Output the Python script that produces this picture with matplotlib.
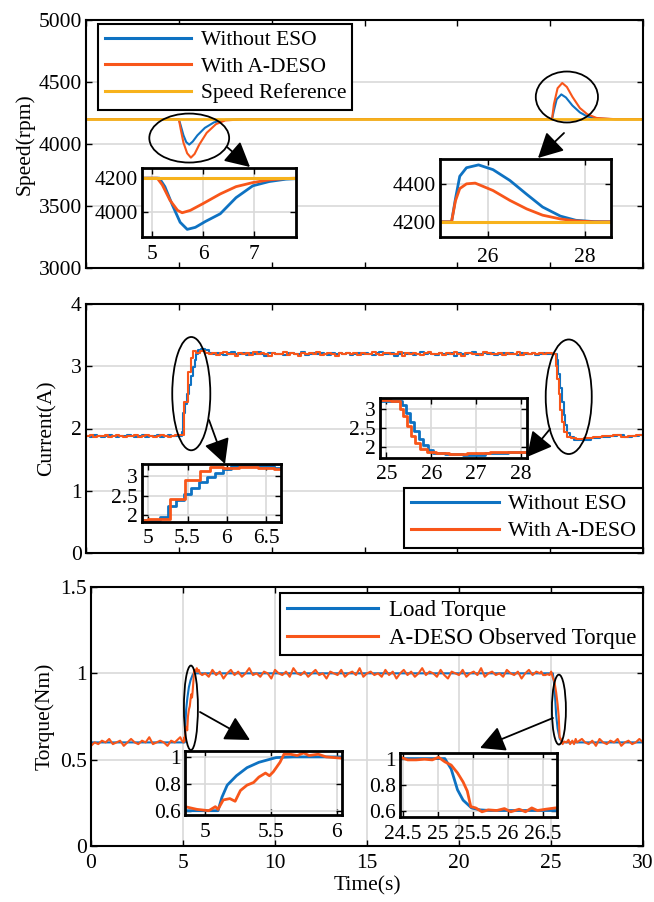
import numpy as np
import matplotlib
matplotlib.use("Agg")
import matplotlib.pyplot as plt
from matplotlib.patches import Ellipse, FancyArrowPatch
from matplotlib.ticker import FuncFormatter

plt.rcParams['font.family'] = ['Liberation Serif', 'DejaVu Serif']
FS = 15.5
plt.rcParams['font.size'] = FS

BLUE = '#0E72C2'
ORANGE = '#F8561A'
YELLOW = '#F7B21C'
GRID = '#d9d9d9'

# ---------------- Speed data ----------------
speed_ref = 4200
speed_t_blue = [0, 5.0, 5.1, 5.25, 5.4, 5.56, 5.75, 6.0, 6.4, 6.9, 7.5, 8.5,
                25.1, 25.2, 25.35, 25.6, 25.85, 26.2, 26.6, 27.0, 27.5, 28.5, 30]
speed_blue = [4200, 4200, 4150, 4070, 4015, 3995, 4020, 4070, 4130, 4175, 4195, 4200,
              4200, 4270, 4360, 4400, 4375, 4310, 4255, 4222, 4205, 4200, 4200]
speed_t_orange = [0, 5.0, 5.1, 5.25, 5.45, 5.65, 5.85, 6.1, 6.5, 7.0, 7.5, 8.5,
                  25.1, 25.2, 25.4, 25.65, 25.9, 26.2, 26.6, 27.0, 27.5, 28.5, 30]
speed_orange = [4200, 4200, 4120, 4010, 3925, 3890, 3920, 3995, 4090, 4160, 4190, 4200,
                4200, 4320, 4450, 4492, 4460, 4380, 4290, 4240, 4210, 4200, 4200]

# zoomed detail (as drawn in the insets)
zoom1_t_blue = [4.8, 5.14, 5.25, 5.4, 5.55, 5.69, 5.85, 6.05, 6.34, 6.65, 6.98, 7.3, 7.63, 7.83]
zoom1_blue = [4200, 4200, 4150, 4040, 3940, 3898, 3910, 3945, 3990, 4085, 4155, 4180, 4194, 4197]
zoom1_t_orange = [4.8, 5.1, 5.2, 5.35, 5.5, 5.59, 5.75, 6.0, 6.34, 6.65, 6.98, 7.3, 7.63, 7.83]
zoom1_orange = [4200, 4200, 4160, 4070, 4010, 3996, 4010, 4050, 4107, 4150, 4174, 4190, 4198, 4200]
zoom2_t_blue = [25.0, 25.24, 25.32, 25.41, 25.55, 25.8, 26.1, 26.45, 26.8, 27.13, 27.5, 27.82, 28.2, 28.55]
zoom2_blue = [4200, 4200, 4320, 4440, 4485, 4500, 4475, 4418, 4345, 4278, 4230, 4208, 4201, 4200]
zoom2_t_orange = [25.0, 25.24, 25.32, 25.41, 25.55, 25.73, 26.1, 26.45, 26.8, 27.13, 27.5, 27.82, 28.2, 28.55]
zoom2_orange = [4200, 4200, 4310, 4375, 4400, 4404, 4365, 4313, 4268, 4235, 4215, 4205, 4200, 4200]

# ---------------- Current data ----------------
cur_base_blue = [1.88, 1.87, 1.89, 1.88, 1.87, 1.88, 1.89, 1.88, 1.87, 1.88, 1.88, 1.89, 1.88,
                 1.87, 1.88, 1.89, 1.87, 1.88, 1.88, 1.89, 1.87, 1.88, 1.89, 1.88, 1.88]
cur_base_orange = [1.88, 1.89, 1.87, 1.88, 1.88, 1.89, 1.87, 1.88, 1.89, 1.88, 1.87, 1.88, 1.88,
                   1.89, 1.87, 1.88, 1.89, 1.88, 1.87, 1.88, 1.89, 1.88, 1.87, 1.88, 1.89]
cur_rise_t_blue = [5.0, 5.15, 5.25, 5.35, 5.45, 5.55, 5.65, 5.75, 5.85, 5.95, 6.05, 6.2, 6.4]
cur_rise_blue = [1.88, 1.95, 2.25, 2.4, 2.55, 2.7, 2.85, 2.98, 3.1, 3.2, 3.26, 3.28, 3.26]
cur_rise_t_orange = [5.0, 5.28, 5.47, 5.66, 5.78, 5.95, 6.15, 6.4]
cur_rise_orange = [1.9, 2.42, 2.9, 3.13, 3.25, 3.21, 3.24, 3.22]
cur_plat_blue = [3.21, 3.19, 3.22, 3.20, 3.18, 3.21, 3.23, 3.19, 3.20, 3.22,
                 3.18, 3.21, 3.19, 3.23, 3.20, 3.17, 3.21, 3.22, 3.19, 3.20,
                 3.18, 3.22, 3.21, 3.19, 3.20, 3.23, 3.18, 3.20, 3.21, 3.19,
                 3.22, 3.20, 3.18, 3.21, 3.19, 3.22, 3.20, 3.21, 3.18, 3.20,
                 3.22, 3.19, 3.21, 3.20, 3.18, 3.21, 3.23, 3.20, 3.19, 3.21,
                 3.17, 3.20, 3.22, 3.19, 3.21, 3.18, 3.20, 3.23, 3.19, 3.21,
                 3.20, 3.18, 3.22, 3.20, 3.19, 3.21, 3.17, 3.22, 3.20, 3.19,
                 3.21, 3.23, 3.18, 3.20, 3.21, 3.19, 3.22, 3.18, 3.20, 3.21,
                 3.19, 3.22, 3.20, 3.18, 3.21, 3.20, 3.19, 3.22, 3.18, 3.20,
                 3.21, 3.19]
cur_plat_orange = [3.20, 3.22, 3.18, 3.21, 3.23, 3.19, 3.20, 3.17, 3.22, 3.20,
                   3.21, 3.18, 3.23, 3.19, 3.21, 3.20, 3.17, 3.22, 3.20, 3.19,
                   3.23, 3.18, 3.21, 3.20, 3.17, 3.22, 3.19, 3.21, 3.20, 3.23,
                   3.18, 3.20, 3.22, 3.19, 3.17, 3.21, 3.20, 3.22, 3.19, 3.21,
                   3.18, 3.22, 3.20, 3.19, 3.23, 3.20, 3.18, 3.21, 3.22, 3.19,
                   3.20, 3.23, 3.17, 3.21, 3.19, 3.22, 3.20, 3.18, 3.21, 3.23,
                   3.19, 3.20, 3.22, 3.18, 3.21, 3.19, 3.23, 3.20, 3.17, 3.21,
                   3.22, 3.19, 3.20, 3.18, 3.23, 3.21, 3.19, 3.20, 3.22, 3.18,
                   3.21, 3.20, 3.19, 3.23, 3.18, 3.21, 3.20, 3.22, 3.19, 3.21,
                   3.20, 3.22]
cur_fall_t_blue = [25.1, 25.35, 25.44, 25.53, 25.62, 25.72, 25.82, 25.93, 26.05, 26.3, 26.7,
                   27.2, 27.7, 28.2, 28.6, 29.0, 29.4, 29.8, 30.0]
cur_fall_blue = [3.2, 3.1, 2.88, 2.65, 2.43, 2.22, 2.05, 1.93, 1.86, 1.82, 1.81,
                 1.84, 1.87, 1.88, 1.89, 1.87, 1.88, 1.89, 1.88]
cur_fall_t_orange = [25.1, 25.3, 25.38, 25.46, 25.55, 25.64, 25.75, 25.9, 26.1, 26.4, 26.8,
                     27.3, 27.8, 28.4, 28.8, 29.2, 29.6, 30.0]
cur_fall_orange = [3.2, 3.0, 2.8, 2.55, 2.3, 2.1, 1.95, 1.87, 1.84, 1.83, 1.85,
                   1.87, 1.88, 1.89, 1.87, 1.88, 1.89, 1.88]

# ---------------- Torque data ----------------
load_t = [0, 5.1, 5.13, 5.17, 5.24, 5.32, 5.41, 5.54, 5.67, 25.1, 25.19, 25.28, 25.36, 25.48, 25.6, 25.75, 30]
load_torque = [0.6, 0.6, 0.70, 0.79, 0.86, 0.92, 0.96, 0.995, 1.0, 1.0, 0.92, 0.76, 0.68, 0.62, 0.605, 0.6, 0.6]

obs_base = [0.58, 0.60, 0.59, 0.61, 0.60, 0.62, 0.59, 0.60, 0.61, 0.58, 0.60, 0.62, 0.60,
            0.59, 0.61, 0.60, 0.63, 0.59, 0.60, 0.61, 0.60, 0.58, 0.61, 0.60, 0.62]
obs_rise_t = [4.85, 4.94, 5.03, 5.08, 5.10, 5.14, 5.19, 5.23, 5.27, 5.32, 5.37, 5.41, 5.46, 5.49,
              5.52, 5.57, 5.60, 5.65, 5.70, 5.75, 5.79, 5.86, 5.92, 5.98, 6.04]
obs_rise = [0.63, 0.61, 0.60, 0.63, 0.61, 0.68, 0.69, 0.67, 0.75, 0.79, 0.81, 0.85, 0.88, 0.86,
            0.89, 0.96, 1.02, 1.02, 1.01, 1.03, 1.01, 1.02, 1.00, 0.995, 0.99]
obs_plat = [1.00, 0.98, 1.02, 0.99, 1.01, 0.97, 1.00, 1.02, 0.99, 1.01,
            0.98, 1.00, 1.03, 0.99, 1.00, 0.98, 1.01, 1.00, 0.97, 1.02,
            1.00, 0.99, 1.01, 0.98, 1.03, 1.00, 0.99, 1.01, 0.98, 1.00,
            1.02, 0.99, 1.00, 0.97, 1.01, 1.00, 0.99, 1.02, 0.98, 1.00,
            1.01, 0.99, 1.03, 0.98, 1.00, 1.01, 0.99, 1.00, 0.98, 1.02,
            0.99, 1.01, 0.97, 1.00, 1.02, 0.99, 1.01, 0.98, 1.00, 1.03,
            0.99, 1.01, 1.00, 0.98, 1.02, 0.99, 0.97, 1.01, 1.00, 0.99,
            1.02, 0.98, 1.00, 1.01, 0.99, 1.03, 0.98, 1.00, 1.01, 0.99,
            1.00, 0.98, 1.02, 1.00, 0.99, 1.01, 0.97, 1.00, 1.02, 0.99,
            1.01, 1.00]
obs_fall_t = [24.47, 24.57, 24.69, 24.81, 24.92, 25.01, 25.10, 25.19, 25.28, 25.36, 25.42, 25.47,
              25.54, 25.63, 25.72, 25.84, 25.95, 26.04, 26.16, 26.25, 26.34, 26.42, 26.54, 26.68]
obs_fall = [1.01, 0.99, 0.99, 0.995, 0.99, 1.01, 0.975, 0.95, 0.89, 0.82, 0.75, 0.63,
            0.62, 0.59, 0.605, 0.60, 0.615, 0.59, 0.61, 0.59, 0.62, 0.60, 0.61, 0.62]
obs_tail = [0.60, 0.59, 0.61, 0.58, 0.62, 0.60, 0.59, 0.61, 0.60, 0.62, 0.58, 0.60, 0.61, 0.59,
            0.60, 0.62, 0.60]

# assemble sampled series (uniform sample times for the noisy stretches)
cur_t_blue = np.concatenate([np.linspace(0, 4.8, len(cur_base_blue)), cur_rise_t_blue,
                             np.linspace(6.6, 24.8, len(cur_plat_blue)), cur_fall_t_blue])
cur_blue = np.concatenate([cur_base_blue, cur_rise_blue, cur_plat_blue, cur_fall_blue])
cur_t_orange = np.concatenate([np.linspace(0, 4.8, len(cur_base_orange)), cur_rise_t_orange,
                               np.linspace(6.6, 24.8, len(cur_plat_orange)), cur_fall_t_orange])
cur_orange = np.concatenate([cur_base_orange, cur_rise_orange, cur_plat_orange, cur_fall_orange])
obs_t = np.concatenate([np.linspace(0, 4.75, len(obs_base)), obs_rise_t,
                        np.linspace(6.2, 24.4, len(obs_plat)), obs_fall_t,
                        np.linspace(26.85, 30, len(obs_tail))])
obs_torque = np.concatenate([obs_base, obs_rise, obs_plat, obs_fall, obs_tail])

# ---------------- Figure ----------------
W, H = 654, 902
fig = plt.figure(figsize=(W / 100, H / 100), dpi=100)


def px(x0, y0, x1, y1):
    return [x0 / W, 1 - y1 / H, (x1 - x0) / W, (y1 - y0) / H]


fmt = FuncFormatter(lambda v, p: '%g' % v)


def style(ax, lw=1.5, xgrid=True, ygrid=True, ticklen=4):
    for s in ax.spines.values():
        s.set_linewidth(lw)
        s.set_color('k')
    ax.tick_params(direction='in', top=True, right=True, length=ticklen, width=1,
                   labelsize=FS, pad=3, colors='k')
    if xgrid:
        ax.xaxis.grid(True, color=GRID, lw=1.2)
    if ygrid:
        ax.yaxis.grid(True, color=GRID, lw=1.2)
    ax.set_axisbelow(True)
    ax.xaxis.set_major_formatter(fmt)
    ax.yaxis.set_major_formatter(fmt)


def ellipse(ax, c, w, h):
    ax.add_patch(Ellipse(c, w, h, fill=False, ec='k', lw=1.3, zorder=6, clip_on=False))


def arrow(p0, p1):
    a = FancyArrowPatch((p0[0] / W, 1 - p0[1] / H), (p1[0] / W, 1 - p1[1] / H),
                        transform=fig.transFigure, arrowstyle='-|>,head_length=0.8,head_width=0.42',
                        mutation_scale=19, color='k', lw=1.3, zorder=20,
                        shrinkA=0, shrinkB=0)
    fig.add_artist(a)


def legend(ax, fs=FS, **kw):
    lg = ax.legend(frameon=True, fancybox=False, edgecolor='k', framealpha=1, fontsize=fs,
                   handlelength=4.0, handletextpad=0.45, labelspacing=0.3, borderpad=0.3,
                   borderaxespad=0, **kw)
    lg.get_frame().set_linewidth(1.5)
    for l in lg.get_lines():
        l.set_linewidth(2.2)
    return lg


time_ticks = [0, 5, 10, 15, 20, 25, 30]

# ---- top: speed ----
ax1 = fig.add_axes(px(86, 20, 643, 268))
ax1.plot(speed_t_blue, speed_blue, color=BLUE, lw=1.5, label='Without ESO')
ax1.plot(speed_t_orange, speed_orange, color=ORANGE, lw=1.5, label='With A-DESO')
ax1.axhline(speed_ref, color=YELLOW, lw=2, label='Speed Reference')
ax1.set_xlim(0, 30)
ax1.set_ylim(3000, 5000)
ax1.set_xticks(time_ticks)
ax1.set_yticks([3000, 3500, 4000, 4500, 5000])
style(ax1, xgrid=False)
ax1.tick_params(labelbottom=False)
ax1.set_ylabel('Speed(rpm)', fontsize=FS, labelpad=3)
legend(ax1, loc='upper left', bbox_to_anchor=(0.022, 0.985))
ellipse(ax1, (5.56, 4048), 4.3, 395)
ellipse(ax1, (25.9, 4379), 3.35, 411)

in1 = fig.add_axes(px(142, 168, 296, 237))
in1.plot(zoom1_t_blue, zoom1_blue, color=BLUE, lw=2)
in1.plot(zoom1_t_orange, zoom1_orange, color=ORANGE, lw=2)
in1.axhline(speed_ref, color=YELLOW, lw=2.2)
in1.set_xlim(4.8, 7.83)
in1.set_ylim(3853, 4260)
in1.set_xticks([5, 6, 7])
in1.set_yticks([4000, 4200])
style(in1, lw=2)
in1.tick_params(axis='x', pad=6)

in2 = fig.add_axes(px(440, 159, 611, 237))
in2.plot(zoom2_t_blue, zoom2_blue, color=BLUE, lw=2)
in2.plot(zoom2_t_orange, zoom2_orange, color=ORANGE, lw=2)
in2.axhline(speed_ref, color=YELLOW, lw=2.2)
in2.set_xlim(25.0, 28.55)
in2.set_ylim(4120, 4531)
in2.set_xticks([26, 28])
in2.set_yticks([4200, 4400])
style(in2, lw=2)
in2.tick_params(axis='x', pad=8)

arrow((227, 147), (250, 167))
arrow((564, 133), (538, 158))

# ---- middle: current ----
ax2 = fig.add_axes(px(86, 304, 643, 553))
ax2.plot(cur_t_blue, cur_blue, color=BLUE, lw=1.5, drawstyle='steps-post', label='Without ESO')
ax2.plot(cur_t_orange, cur_orange, color=ORANGE, lw=1.5, drawstyle='steps-post', label='With A-DESO')
ax2.set_xlim(0, 30)
ax2.set_ylim(0, 4)
ax2.set_xticks(time_ticks)
ax2.set_yticks([0, 1, 2, 3, 4])
style(ax2, xgrid=False)
ax2.tick_params(labelbottom=False)
ax2.set_ylabel('Current(A)', fontsize=FS, labelpad=10)
legend(ax2, fs=15.8, loc='lower right', bbox_to_anchor=(1.0, 0.02))
ellipse(ax2, (5.67, 2.56), 2.05, 1.82)
ellipse(ax2, (26.0, 2.51), 2.48, 1.84)

in3 = fig.add_axes(px(142, 464, 281, 522))
in3.plot(cur_t_blue, cur_blue, color=BLUE, lw=2, drawstyle='steps-post')
in3.plot(cur_t_orange, cur_orange, color=ORANGE, lw=2, drawstyle='steps-post')
in3.set_xlim(4.92, 6.69)
in3.set_ylim(1.83, 3.32)
in3.set_xticks([5, 5.5, 6, 6.5])
in3.set_yticks([2, 2.5, 3])
style(in3, lw=2)
in3.tick_params(axis='x', pad=5)

in4 = fig.add_axes(px(380, 398, 527, 458))
in4.plot(cur_t_blue, cur_blue, color=BLUE, lw=2, drawstyle='steps-post')
in4.plot(cur_t_orange, cur_orange, color=ORANGE, lw=2, drawstyle='steps-post')
in4.set_xlim(24.86, 28.13)
in4.set_ylim(1.72, 3.28)
in4.set_xticks([25, 26, 27, 28])
in4.set_yticks([2, 2.5, 3])
style(in4, lw=2)
in4.tick_params(axis='x', pad=5)

arrow((209, 420), (225, 464))
arrow((550, 429), (527, 457))

# ---- bottom: torque ----
ax3 = fig.add_axes(px(91, 587, 643, 846))
ax3.plot(load_t, load_torque, color=BLUE, lw=1.5, label='Load Torque')
ax3.plot(obs_t, obs_torque, color=ORANGE, lw=1.5, label='A-DESO Observed Torque')
ax3.set_xlim(0, 30)
ax3.set_ylim(0, 1.5)
ax3.set_xticks(time_ticks)
ax3.set_yticks([0, 0.5, 1, 1.5])
style(ax3)
ax3.tick_params(axis='x', pad=6)
ax3.set_ylabel('Torque(Nm)', fontsize=FS, labelpad=4)
ax3.set_xlabel('Time(s)', fontsize=FS, labelpad=2)
legend(ax3, fs=16.5, loc='upper right', bbox_to_anchor=(1.0, 0.978))
ellipse(ax3, (5.43, 0.80), 0.76, 0.49)
ellipse(ax3, (25.43, 0.79), 0.76, 0.405)

in5 = fig.add_axes(px(185, 751, 342, 815))
in5.plot(load_t, load_torque, color=BLUE, lw=2)
in5.plot(obs_t, obs_torque, color=ORANGE, lw=2)
in5.set_xlim(4.85, 6.04)
in5.set_ylim(0.568, 1.044)
in5.set_xticks([5, 5.5, 6])
in5.set_yticks([0.6, 0.8, 1])
style(in5, lw=2)
in5.tick_params(axis='x', pad=6)

in6 = fig.add_axes(px(400, 753, 557, 817))
in6.plot(load_t, load_torque, color=BLUE, lw=2)
in6.plot(obs_t, obs_torque, color=ORANGE, lw=2)
in6.set_xlim(24.46, 26.7)
in6.set_ylim(0.55, 1.043)
in6.set_xticks([24.5, 25, 25.5, 26, 26.5])
in6.set_yticks([0.6, 0.8, 1])
style(in6, lw=2)
in6.tick_params(axis='x', pad=6)

arrow((200, 712), (250, 740))
arrow((553, 718), (480, 748))

fig.savefig('out.png', dpi=100, facecolor='white')
